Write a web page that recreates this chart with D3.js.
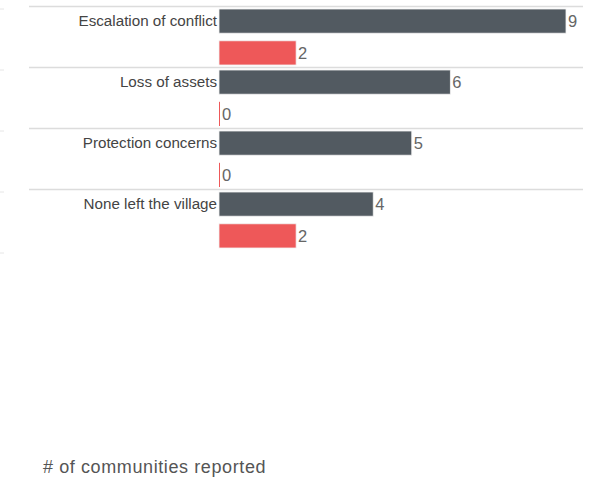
<!DOCTYPE html>
<html><head><meta charset="utf-8">
<script src="https://cdn.jsdelivr.net/npm/d3@7"></script>
<style>body{margin:0;background:#fff;}svg{display:block;font-family:"Liberation Sans",Arial,sans-serif;}</style>
</head><body>
<svg id="c" width="609" height="478"></svg>
<script>
const categories = ["Escalation of conflict","Loss of assets","Protection concerns","None left the village"];
const seriesA = [9,6,5,4];
const seriesB = [2,0,0,2];
const series = ["A","B"];
const colors = {A:"#525a61", B:"#ee5859"};
const axisTitle = "# of communities reported";

const svg = d3.select("#c");
const x = d3.scaleLinear().domain([0,9]).range([219,566]);
const y = d3.scaleBand().domain(categories).range([6,250]).paddingInner(0).paddingOuter(0);
const y2 = d3.scaleBand().domain(series).range([3,59]).paddingInner(0.24);

// left faint ticks
svg.selectAll("line.lt").data(d3.range(5)).enter().append("line")
  .attr("x1",0).attr("x2",4)
  .attr("y1",(d,i)=>y.range()[0]+3+i*y.step()).attr("y2",(d,i)=>y.range()[0]+3+i*y.step())
  .attr("stroke","#e6e6e6").attr("stroke-width",1);

// separators
svg.selectAll("line.sep").data(categories).enter().append("line")
  .attr("x1",29).attr("x2",583)
  .attr("y1",d=>y(d)+0.5).attr("y2",d=>y(d)+0.5)
  .attr("stroke","#dcdcdc").attr("stroke-width",1.5);

const rows = categories.map((c,i)=>({c, vals:[{s:"A",v:seriesA[i]},{s:"B",v:seriesB[i]}]}));
const g = svg.selectAll("g.row").data(rows).enter().append("g").attr("transform",d=>`translate(0,${y(d.c)})`);

g.selectAll("rect").data(d=>d.vals).enter().append("rect")
  .attr("x",x(0)).attr("y",d=>y2(d.s)).attr("height",y2.bandwidth())
  .attr("width",d=>Math.max(1,x(d.v)-x(0)))
  .attr("fill",d=>colors[d.s])
  .attr("stroke",d=>d.v>0?"#f2f2f2":"none").attr("stroke-width",0.8);

g.selectAll("text.val").data(d=>d.vals).enter().append("text")
  .attr("x",d=>x(d.v)+(d.v>0?2:3)).attr("y",d=>y2(d.s)+y2.bandwidth()/2)
  .attr("dy","0.36em").attr("font-size",16.5).attr("fill","#666").text(d=>d.v);

g.append("text").attr("x",217).attr("y",y2("A")+y2.bandwidth()/2).attr("dy","0.35em")
  .attr("text-anchor","end").attr("font-size",15.2).attr("fill","#444").text(d=>d.c);

svg.append("text").attr("x",43).attr("y",473).attr("font-size",18).attr("letter-spacing",0.6).attr("fill","#555").text(axisTitle);
</script>
</body></html>
